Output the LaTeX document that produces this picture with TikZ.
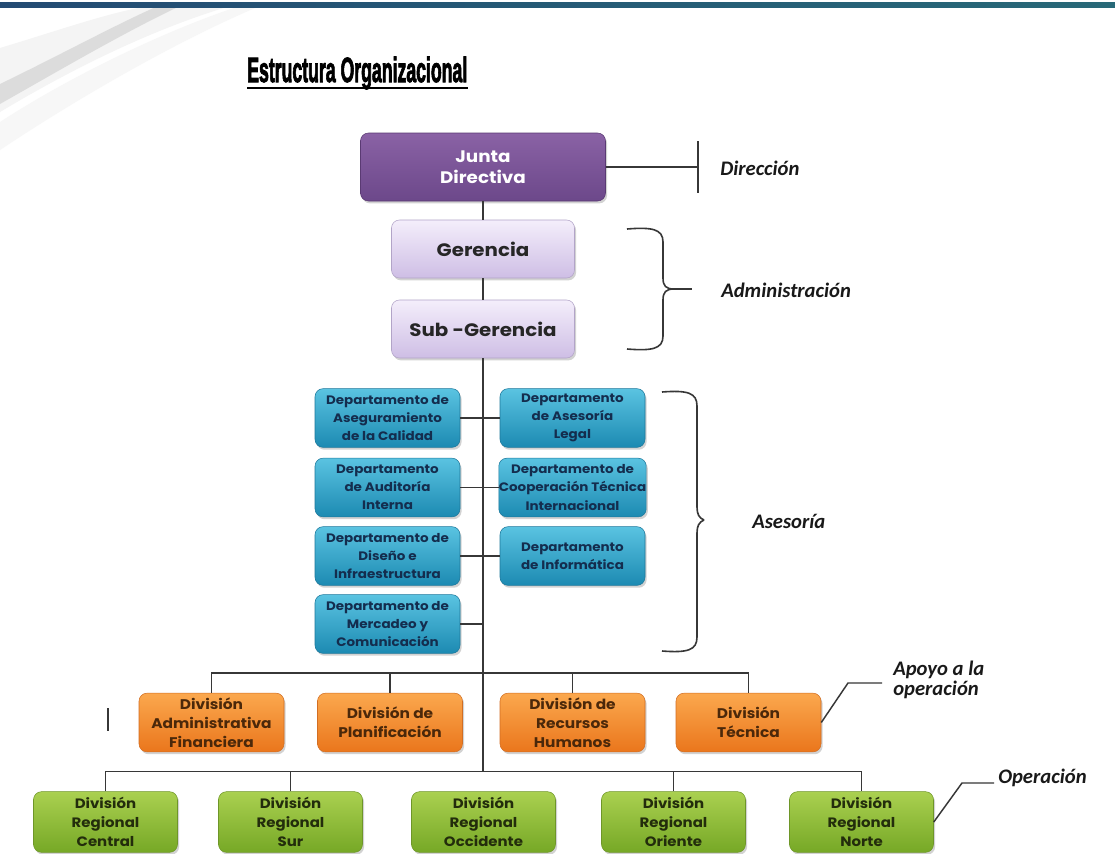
\documentclass[tikz,border=0pt]{standalone}
\usepackage{fontspec}
\usepackage{graphicx}
\usetikzlibrary{shadows}
\newfontfamily\boxfont{Poppins}[FakeStretch=1.1]
\newfontfamily\labfont{Carlito}
\newfontfamily\ttlfont{Liberation Sans}[FakeBold=3]
\definecolor{lineC}{RGB}{55,55,55}
\definecolor{barA}{RGB}{35,75,115}
\definecolor{barB}{RGB}{40,105,120}
\definecolor{purT}{RGB}{138,98,165}
\definecolor{purB}{RGB}{108,72,138}
\definecolor{purD}{RGB}{90,58,115}
\definecolor{lavT}{RGB}{244,238,251}
\definecolor{lavB}{RGB}{206,190,229}
\definecolor{lavD}{RGB}{178,164,200}
\definecolor{bluT}{RGB}{90,195,225}
\definecolor{bluB}{RGB}{28,138,178}
\definecolor{bluD}{RGB}{30,120,155}
\definecolor{bluTx}{RGB}{20,45,78}
\definecolor{orT}{RGB}{251,168,78}
\definecolor{orB}{RGB}{234,118,28}
\definecolor{orD}{RGB}{210,110,35}
\definecolor{orTx}{RGB}{75,40,10}
\definecolor{grT}{RGB}{170,208,80}
\definecolor{grB}{RGB}{118,168,38}
\definecolor{grD}{RGB}{110,150,40}
\definecolor{grTx}{RGB}{35,45,12}
\begin{document}
\begin{tikzpicture}[x=0.75pt,y=-0.75pt,
  conn/.style={draw=lineC, line width=1.1pt},
  box/.style={rounded corners=6pt, inner sep=0pt, align=center,
    drop shadow={opacity=0.35, shadow xshift=1.2pt, shadow yshift=-1.8pt}},
  juntabox/.style={box, draw=purD, top color=purT, bottom color=purB,
    minimum width=183.75pt, minimum height=51pt, text=white,
    font=\boxfont\bfseries\fontsize{12.5}{16}\selectfont},
  lavbox/.style={box, draw=lavD, top color=lavT, bottom color=lavB,
    minimum width=137.25pt, minimum height=43.5pt, text=black!85,
    font=\boxfont\bfseries\fontsize{13.5}{16}\selectfont},
  blubox/.style={box, draw=bluD, top color=bluT, bottom color=bluB,
    minimum width=108.75pt, minimum height=44pt, text=bluTx,
    font=\boxfont\bfseries\fontsize{9.2}{13.6}\selectfont},
  orbox/.style={box, draw=orD, top color=orT, bottom color=orB,
    minimum width=108.75pt, minimum height=44pt, text=orTx,
    font=\boxfont\bfseries\fontsize{10.5}{14.3}\selectfont},
  grbox/.style={box, draw=grD, top color=grT, bottom color=grB,
    minimum width=108pt, minimum height=45.5pt, text=grTx,
    font=\boxfont\bfseries\fontsize{10.2}{14.2}\selectfont},
  lab/.style={inner sep=0pt, align=left, text=black!90,
    font=\labfont\bfseries\itshape\fontsize{15.5}{15.5}\selectfont},
  brace/.style={draw=lineC, line width=1.2pt}
]
\useasboundingbox (0,0) rectangle (1115,854);
\fill[white] (0,0) rectangle (1115,854);
% decorative top
\fill[gray!9] (0,48) .. controls (60,30) and (110,12) .. (150,6) -- (230,6) .. controls (150,30) and (70,70) .. (0,112) -- cycle;
\fill[gray!32, opacity=0.8] (0,84) .. controls (60,55) and (115,25) .. (158,6) -- (180,6) .. controls (125,32) and (60,70) .. (0,104) -- cycle;
\fill[gray!6] (0,122) .. controls (80,70) and (180,25) .. (240,6) -- (260,6) .. controls (190,35) and (90,90) .. (0,150) -- cycle;
\shade[left color=barA, right color=barB] (0,2.5) rectangle (1115,7.5);
% title
\node[anchor=base west, inner sep=0pt] (title) at (247,82)
  {\resizebox{165pt}{19pt}{\ttlfont\bfseries Estructura Organizacional}};
\draw[line width=1.7pt, black] ([yshift=-4.5pt]title.base west) -- ([yshift=-4.5pt]title.base east);
% top hierarchy
\node[juntabox] (junta) at (483,167) {Junta\\Directiva};
\node[lavbox] (ger) at (483,249) {Gerencia};
\node[lavbox] (sub) at (483,329) {Sub -Gerencia};
% advisory departments
\node[blubox] (b1l) at (387.5,418) {Departamento de\\Aseguramiento\\de la Calidad};
\node[blubox] (b2l) at (387.5,487.5) {Departamento\\de Auditoría\\Interna};
\node[blubox] (b3l) at (387.5,556) {Departamento de\\Diseño e\\Infraestructura};
\node[blubox] (b4l) at (387.5,624) {Departamento de\\Mercadeo y\\Comunicación};
\node[blubox] (b1r) at (572.5,418) {Departamento\\de Asesoría\\Legal};
\node[blubox] (b2r) at (572.5,487.5) {Departamento de\\Cooperación Técnica\\Internacional};
\node[blubox] (b3r) at (572.5,556) {Departamento\\de Informática};
% support divisions
\node[orbox] (o1) at (211.5,722.5) {División\\Administrativa\\Financiera};
\node[orbox] (o2) at (390,722.5) {División de\\Planificación};
\node[orbox] (o3) at (572.5,722.5) {División de\\Recursos\\Humanos};
\node[orbox] (o4) at (748.5,722.5) {División\\Técnica};
% regional divisions
\node[grbox] (g1) at (105.5,822) {División\\Regional\\Central};
\node[grbox] (g2) at (290.5,822) {División\\Regional\\Sur};
\node[grbox] (g3) at (483.5,822) {División\\Regional\\Occidente};
\node[grbox] (g4) at (673.5,822) {División\\Regional\\Oriente};
\node[grbox] (g5) at (861.5,822) {División\\Regional\\Norte};
% trunk
\coordinate (gbus) at (483,772);
\draw[conn] (junta.south) -- (ger.north);
\draw[conn] (ger.south) -- (sub.north);
\draw[conn] (sub.south) -- (gbus);
% department connectors
\draw[conn] (b1l.east) -- (b1r.west);
\draw[conn] (b2l.east) -- (b2r.west);
\draw[conn] (b3l.east) -- (b3r.west);
\draw[conn] (b4l.east) -- (b4l.east -| sub.south);
% orange bus
\draw[conn] (o1.north) -- ++(0,-20) -| (o4.north);
\draw[conn] (o2.north) -- ++(0,-20);
\draw[conn] (o3.north) -- ++(0,-20);
% green bus
\draw[conn] (g1.north) -- ++(0,-20) -| (g5.north);
\draw[conn] (g2.north) -- ++(0,-20);
\draw[conn] (g4.north) -- ++(0,-20);
% stray mark
\coordinate (m1) at (108,708);
\coordinate (m2) at (108,731);
\draw[conn] (m1) -- (m2);
% Direccion
\coordinate (dtick) at (698,167);
\coordinate (dt1) at (698,141);
\coordinate (dt2) at (698,193);
\draw[conn] (junta.east) -- (dtick);
\draw[conn] (dt1) -- (dt2);
\node[lab, anchor=west] (dir) at (720,168) {Dirección};
% Administracion brace
\coordinate (at) at (674,289);
\coordinate (al) at (692,289);
\draw[brace] (627,229) .. controls (652,227) and (663,229) .. (663,242) -- (663,278) .. controls (663,286) and (666,289) .. (at);
\draw[brace] (627,349) .. controls (652,351) and (663,349) .. (663,336) -- (663,300) .. controls (663,292) and (666,289) .. (at);
\draw[conn] (at) -- (al);
\node[lab, anchor=west] (adm) at (721,290) {Administración};
% Asesoria brace
\draw[brace] (662,392) .. controls (688,390) and (697,393) .. (697,406) -- (697,507) .. controls (697,514) and (699,518) .. (704,520);
\draw[brace] (662,651) .. controls (688,653) and (697,650) .. (697,637) -- (697,533) .. controls (697,526) and (699,522) .. (704,520);
\node[lab, anchor=west] (ase) at (752,521) {Asesoría};
% Apoyo a la operacion
\coordinate (ap1) at (848,683);
\coordinate (ap2) at (882,683);
\draw[conn] (o4.east) -- (ap1) -- (ap2);
\node[lab, anchor=west] (apo) at (893,680) {Apoyo a la\\operación};
% Operacion
\coordinate (op1) at (962,783);
\coordinate (op2) at (994,783);
\draw[conn] (g5.east) -- (op1) -- (op2);
\node[lab, anchor=west] (ope) at (998,778) {Operación};
\end{tikzpicture}
\end{document}
